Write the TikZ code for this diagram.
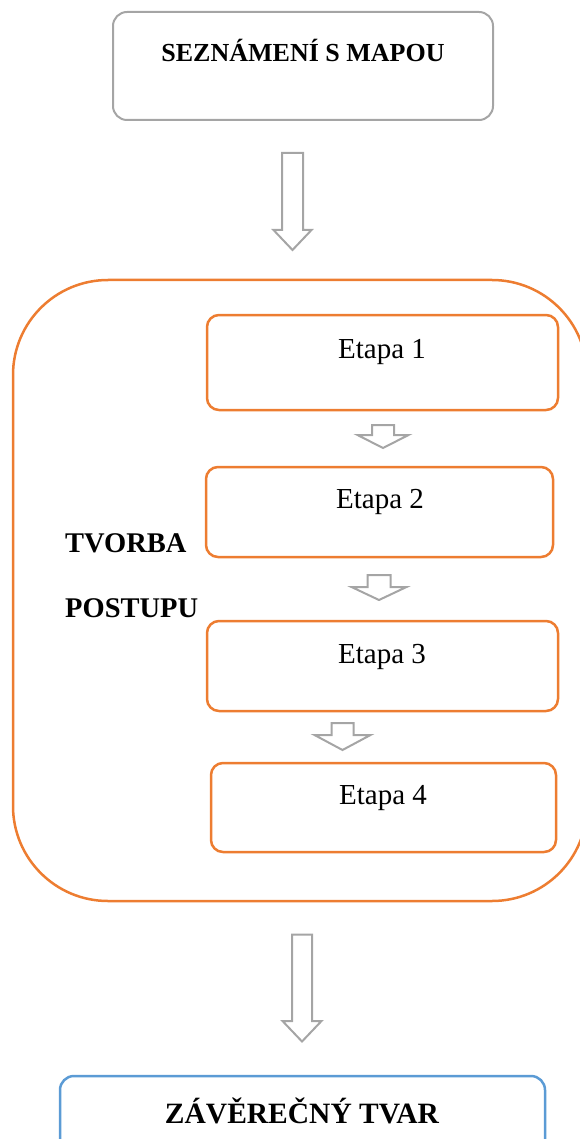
\documentclass[tikz,border=0pt]{standalone}
\usepackage{fontspec}
\setmainfont{Liberation Serif}
\definecolor{orng}{HTML}{ED7D31}
\definecolor{gry}{HTML}{A5A5A5}
\definecolor{blu}{HTML}{5B9BD5}
\tikzset{
  greybox/.style={draw=gry, line width=2pt, rounded corners=14pt, inner sep=0pt},
  orangebox/.style={draw=orng, line width=2.5pt, rounded corners=12pt, inner sep=0pt},
  bigbox/.style={draw=orng, line width=2.5pt, rounded corners=95pt, inner sep=0pt},
  bluebox/.style={draw=blu, line width=2.5pt, rounded corners=14pt, inner sep=0pt},
  blockarr/.style={draw=gry, line width=2pt, line join=miter},
  titletext/.style={font=\fontsize{26}{30}\selectfont\bfseries, anchor=base, inner sep=0pt},
  boldtext/.style={font=\fontsize{28.5}{32}\selectfont\bfseries, inner sep=0pt},
  etaptext/.style={font=\fontsize{29}{33}\selectfont, anchor=base, inner sep=0pt},
}
% name, cx, top, headY, tip, shaftHalf, headHalf
\newcommand{\blkarrow}[7]{%
  \coordinate (#1-top) at (#2,#3);
  \coordinate (#1-tip) at (#2,#5);
  \draw[blockarr] (#2-#6,#3) -- (#2+#6,#3) -- (#2+#6,#4) -- (#2+#7,#4)
     -- (#1-tip) -- (#2-#7,#4) -- (#2-#6,#4) -- cycle;
}
\begin{document}
\begin{tikzpicture}[x=1pt, y=-1pt]
\useasboundingbox (0,0) rectangle (579,1139);

% boxes
\node[greybox, minimum width=380pt, minimum height=108pt] (intro) at (303,66) {};
\node[bigbox, minimum width=574pt, minimum height=621pt] (tvorba) at (300,590.5) {};
\node[orangebox, minimum width=351pt, minimum height=95pt] (e1) at (382.5,362.5) {};
\node[orangebox, minimum width=347pt, minimum height=90pt] (e2) at (379.5,512) {};
\node[orangebox, minimum width=351pt, minimum height=90pt] (e3) at (382.5,666) {};
\node[orangebox, minimum width=345pt, minimum height=89pt] (e4) at (383.5,807.5) {};
\node[bluebox, minimum width=485pt, minimum height=94pt] (final) at (302.5,1123) {};

% texts
\node[titletext] (introtxt) at (303,62) {SEZNÁMENÍ S MAPOU};
\node[boldtext, anchor=base west] (tv1) at (65,552) {TVORBA};
\node[boldtext, anchor=base west] (tv2) at (65,617) {POSTUPU};
\node[etaptext] (e1t) at (382,358) {Etapa 1};
\node[etaptext] (e2t) at (380,508) {Etapa 2};
\node[etaptext] (e3t) at (382,663) {Etapa 3};
\node[etaptext] (e4t) at (383,804) {Etapa 4};
\node[titletext, font=\fontsize{29.5}{33}\selectfont\bfseries] (finaltxt) at (302,1123.5) {ZÁVĚREČNÝ TVAR};

% block arrows
\blkarrow{a1}{292.5}{153}{230}{250}{10.5}{19}
\blkarrow{a2}{383}{425}{435}{448}{11}{25.5}
\blkarrow{a3}{379}{575}{587}{600}{11.5}{27.5}
\blkarrow{a4}{342.5}{723}{735}{750}{11}{28}
\blkarrow{a5}{302}{934.5}{1021}{1041.5}{10}{19.5}
\end{tikzpicture}
\end{document}
